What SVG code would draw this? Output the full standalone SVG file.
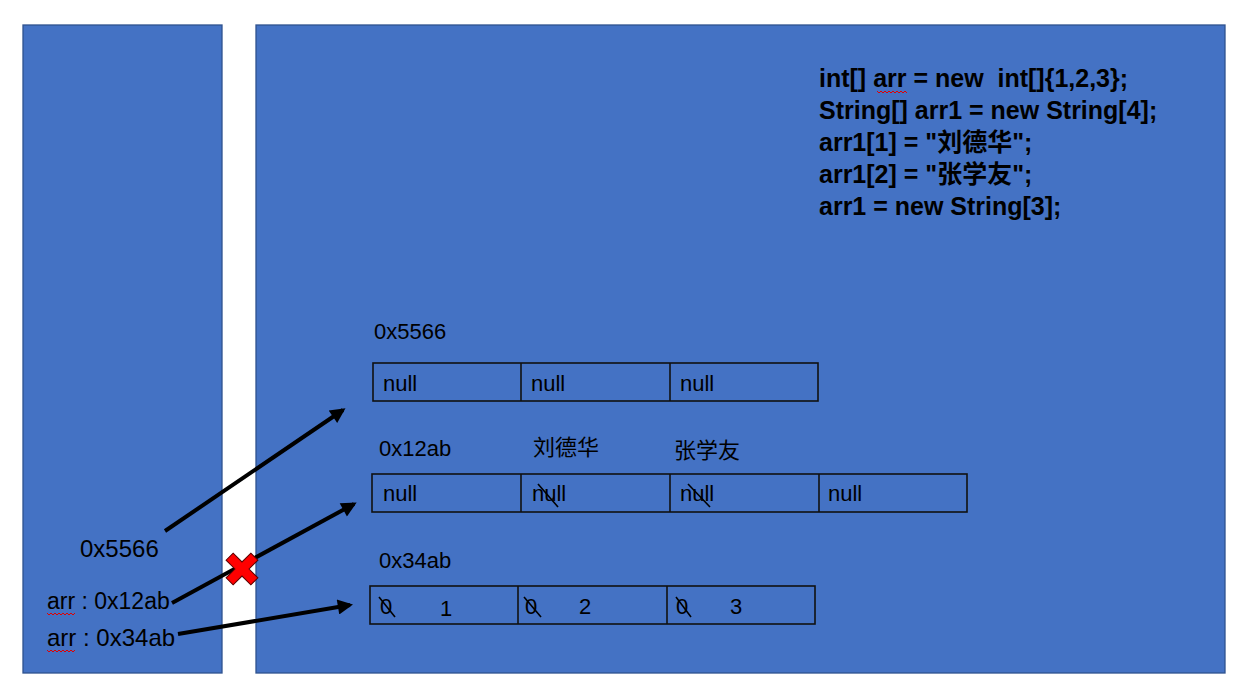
<svg xmlns="http://www.w3.org/2000/svg" width="1238" height="682" viewBox="0 0 1238 682">
<defs>
<style>
.panel{fill:#4472C4;stroke:#2F528F;stroke-width:1.3}
.cell{fill:none;stroke:#111;stroke-width:1.6}
.t{font-family:"Liberation Sans","Noto Sans CJK SC",sans-serif;font-size:22px;fill:#000}
.cjk{font-family:"Noto Sans CJK SC","Liberation Sans",sans-serif;font-size:22px;fill:#000}
.code{font-family:"Liberation Sans","Noto Sans CJK SC",sans-serif;font-size:25px;font-weight:bold;fill:#000}
.strike{stroke:#000;stroke-width:1.6}
.conn{stroke:#000;stroke-width:4;fill:none;marker-end:url(#ah)}
.wave{fill:none;stroke:#E00000;stroke-width:1}
</style>
<marker id="ah" viewBox="0 0 10 10" refX="8" refY="5" markerWidth="4.2" markerHeight="3.8" orient="auto" markerUnits="strokeWidth">
<path d="M0,0 L10,5 L0,10 z" fill="#000"/>
</marker>
</defs>
<rect width="1238" height="682" fill="#fff"/>
<g id="stack"><rect class="panel" x="23" y="25" width="199" height="648"/></g>
<g id="heap"><rect class="panel" x="256" y="25" width="969" height="648"/></g>

<g id="code">
<text class="code" x="819" y="87" xml:space="preserve">int[] arr = new  int[]{1,2,3};</text>
<text class="code" x="819" y="119">String[] arr1 = new String[4];</text>
<text class="code" x="819" y="151">arr1[1] = "刘德华";</text>
<text class="code" x="819" y="183">arr1[2] = "张学友";</text>
<text class="code" x="819" y="215">arr1 = new String[3];</text>
<polyline class="wave" points="877,91 879,93 881,91 883,93 885,91 887,93 889,91 891,93 893,91 895,93 897,91 899,93 901,91 903,93 905,91 907,93"/>
</g>

<g id="arr5566">
<text class="t" x="374" y="339">0x5566</text>
<rect class="cell" x="373" y="363" width="445" height="38"/>
<line class="cell" x1="521" y1="363" x2="521" y2="401"/>
<line class="cell" x1="670" y1="363" x2="670" y2="401"/>
<text class="t" x="383" y="391">null</text>
<text class="t" x="531" y="391">null</text>
<text class="t" x="680" y="391">null</text>
</g>

<g id="arr12ab">
<text class="t" x="379" y="456">0x12ab</text>
<text class="cjk" x="533" y="455">刘德华</text>
<text class="cjk" x="674" y="458">张学友</text>
<rect class="cell" x="372" y="474" width="595" height="38"/>
<line class="cell" x1="521" y1="474" x2="521" y2="512"/>
<line class="cell" x1="670" y1="474" x2="670" y2="512"/>
<line class="cell" x1="819" y1="474" x2="819" y2="512"/>
<text class="t" x="383" y="501">null</text>
<text class="t" x="532" y="501">null</text>
<text class="t" x="680" y="501">null</text>
<text class="t" x="828" y="501">null</text>
<line class="strike" x1="538" y1="484" x2="558" y2="507"/>
<line class="strike" x1="688" y1="484" x2="710" y2="507"/>
</g>

<g id="arr34ab">
<text class="t" x="379" y="568">0x34ab</text>
<rect class="cell" x="370" y="586" width="445" height="38"/>
<line class="cell" x1="518" y1="586" x2="518" y2="624"/>
<line class="cell" x1="667" y1="586" x2="667" y2="624"/>
<text class="t" x="380" y="614">0</text>
<text class="t" x="440" y="616">1</text>
<text class="t" x="525" y="614">0</text>
<text class="t" x="579" y="614">2</text>
<text class="t" x="676" y="614">0</text>
<text class="t" x="730" y="614">3</text>
<line class="strike" x1="379" y1="597" x2="395" y2="617"/>
<line class="strike" x1="524" y1="597" x2="541" y2="617"/>
<line class="strike" x1="676" y1="597" x2="691" y2="617"/>
</g>

<g id="vars">
<text class="t" x="80" y="557" style="font-size:24px">0x5566</text>
<text class="t" x="47" y="609" style="font-size:23px">arr : 0x12ab</text>
<text class="t" x="47" y="646" style="font-size:24px">arr : 0x34ab</text>
<polyline class="wave" points="47,613 49,615 51,613 53,615 55,613 57,615 59,613 61,615 63,613 65,615 67,613 69,615 71,613 73,615 75,613"/>
<polyline class="wave" points="47,650 49,652 51,650 53,652 55,650 57,652 59,650 61,652 63,650 65,652 67,650 69,652 71,650 73,652 75,650"/>
</g>

<g id="connectors">
<line class="conn" x1="165" y1="531" x2="343" y2="410"/>
<line class="conn" x1="172" y1="603" x2="354" y2="504"/>
<line class="conn" x1="178" y1="634" x2="350" y2="605"/>
</g>

<g id="cross">
<polygon transform="translate(242 569) rotate(45)" points="-5,-17.5 5,-17.5 5,-5 17.5,-5 17.5,5 5,5 5,17.5 -5,17.5 -5,5 -17.5,5 -17.5,-5 -5,-5" fill="#FF0000" stroke="#5a0000" stroke-width="1"/>
</g>
</svg>
